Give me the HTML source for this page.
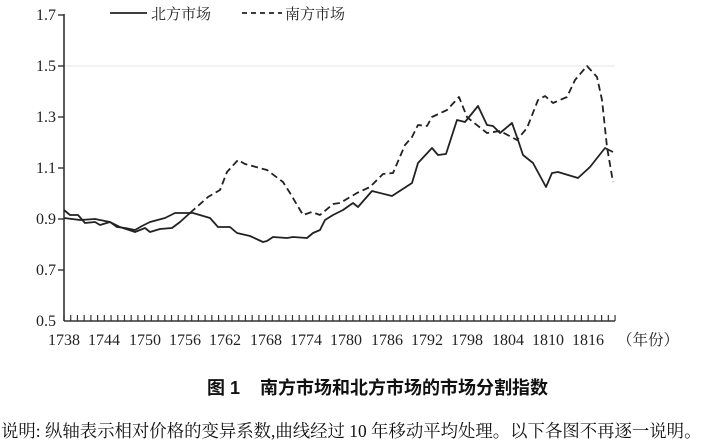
<!DOCTYPE html>
<html><head><meta charset="utf-8"><style>
body{margin:0;background:#fff;width:704px;height:439px;overflow:hidden;position:relative}
svg{position:absolute;left:0;top:0}
text{font-family:"Liberation Serif","Noto Serif CJK SC",serif;fill:#222}
.cap{position:absolute;font-family:"Liberation Serif","Noto Serif CJK SC",serif;color:#111;white-space:nowrap}
</style></head><body>
<svg width="704" height="439">
<line x1="64" y1="66" x2="615" y2="66" stroke="#e6e6e6" stroke-width="1"/>
<line x1="64" y1="14" x2="64" y2="321" stroke="#333" stroke-width="1.6"/>
<line x1="64" y1="321" x2="615" y2="321" stroke="#333" stroke-width="1.6"/>
<g stroke="#333" stroke-width="1.4">
<line x1="58" y1="15" x2="64" y2="15"/><line x1="58" y1="66" x2="64" y2="66"/><line x1="58" y1="117" x2="64" y2="117"/><line x1="58" y1="168" x2="64" y2="168"/><line x1="58" y1="219" x2="64" y2="219"/><line x1="58" y1="270" x2="64" y2="270"/>
</g>
<g stroke="#333" stroke-width="1.2" id="ticks"></g>
<g font-size="16" text-anchor="end">
<text x="56" y="20">1.7</text><text x="56" y="71">1.5</text><text x="56" y="122">1.3</text><text x="56" y="173">1.1</text><text x="56" y="224">0.9</text><text x="56" y="275">0.7</text><text x="56" y="326">0.5</text>
</g>
<g font-size="16" text-anchor="middle">
<text x="64" y="345">1738</text><text x="104" y="345">1744</text><text x="145" y="345">1750</text><text x="185" y="345">1756</text><text x="225" y="345">1762</text><text x="266" y="345">1768</text><text x="306" y="345">1774</text><text x="346" y="345">1780</text><text x="387" y="345">1786</text><text x="427" y="345">1792</text><text x="467" y="345">1798</text><text x="508" y="345">1804</text><text x="548" y="345">1810</text><text x="588" y="345">1816</text>
<text x="648" y="345" font-size="15.5">（年份）</text>
</g>
<line x1="110" y1="13" x2="147" y2="13" stroke="#222" stroke-width="1.8"/>
<text x="151" y="19" font-size="15">北方市场</text>
<line x1="242" y1="13" x2="282" y2="13" stroke="#222" stroke-width="1.8" stroke-dasharray="5,4"/>
<text x="285" y="19" font-size="15">南方市场</text>
<polyline fill="none" stroke="#222" stroke-width="1.8" stroke-linejoin="round" points="64,218 80,220 95,219 110,222 120,227 135,232 145,228 150,232 160,229 172,228 180,222 190,213"/>
<polyline fill="none" stroke="#222" stroke-width="1.8" stroke-dasharray="7,4" stroke-linejoin="round" points="190,213 208,197 220,190 227,172 238,160 245,164 267,170 283,182 290,193 303,215 312,212 320,215 333,204 340,203 357,193 370,187 383,174 393,173 405,145 412,137 418,125 427,126 432,117 447,110 459,97 467,117 473,122 487,133 500,131 517,140 527,128 538,100 545,96 553,103 567,97 575,80 587,66 597,77 602,100 607,147 613,182"/>
<polyline fill="none" stroke="#222" stroke-width="1.8" stroke-linejoin="round" points="64,210 70,215 78,215 85,223 95,222 100,225 110,222 117,227 125,228 135,230 142,226 150,222 165,218 175,213 193,213 210,218 218,227 230,227 237,233 250,236 263,242 267,241 273,237 287,238 293,237 307,238 313,233 320,230 325,220 333,215 343,210 353,203 358,207 372,191 392,196 412,183 418,163 432,148 438,155 446,154 457,120 465,122 478,106 487,125 493,126 500,133 512,123 518,140 523,155 533,163 546,187 552,173 558,172 578,178 590,167 605,148 613,152"/>
</svg>
<div class="cap" style="top:374px;left:207px;font-size:18px;font-weight:bold;font-family:'Liberation Sans','Noto Sans CJK SC',sans-serif">图 1&nbsp;&nbsp;&nbsp; 南方市场和北方市场的市场分割指数</div>
<div class="cap" style="top:417px;left:1px;font-size:17.4px">说明: 纵轴表示相对价格的变异系数,曲线经过 10 年移动平均处理。以下各图不再逐一说明。</div>
<script>
var g=document.getElementById('ticks'),s='';
for(var i=0;i<=82;i++){var x=64+i*6.72;s+='<line x1="'+x+'" y1="315" x2="'+x+'" y2="321"/>';}
g.innerHTML=s;
</script>
</body></html>
